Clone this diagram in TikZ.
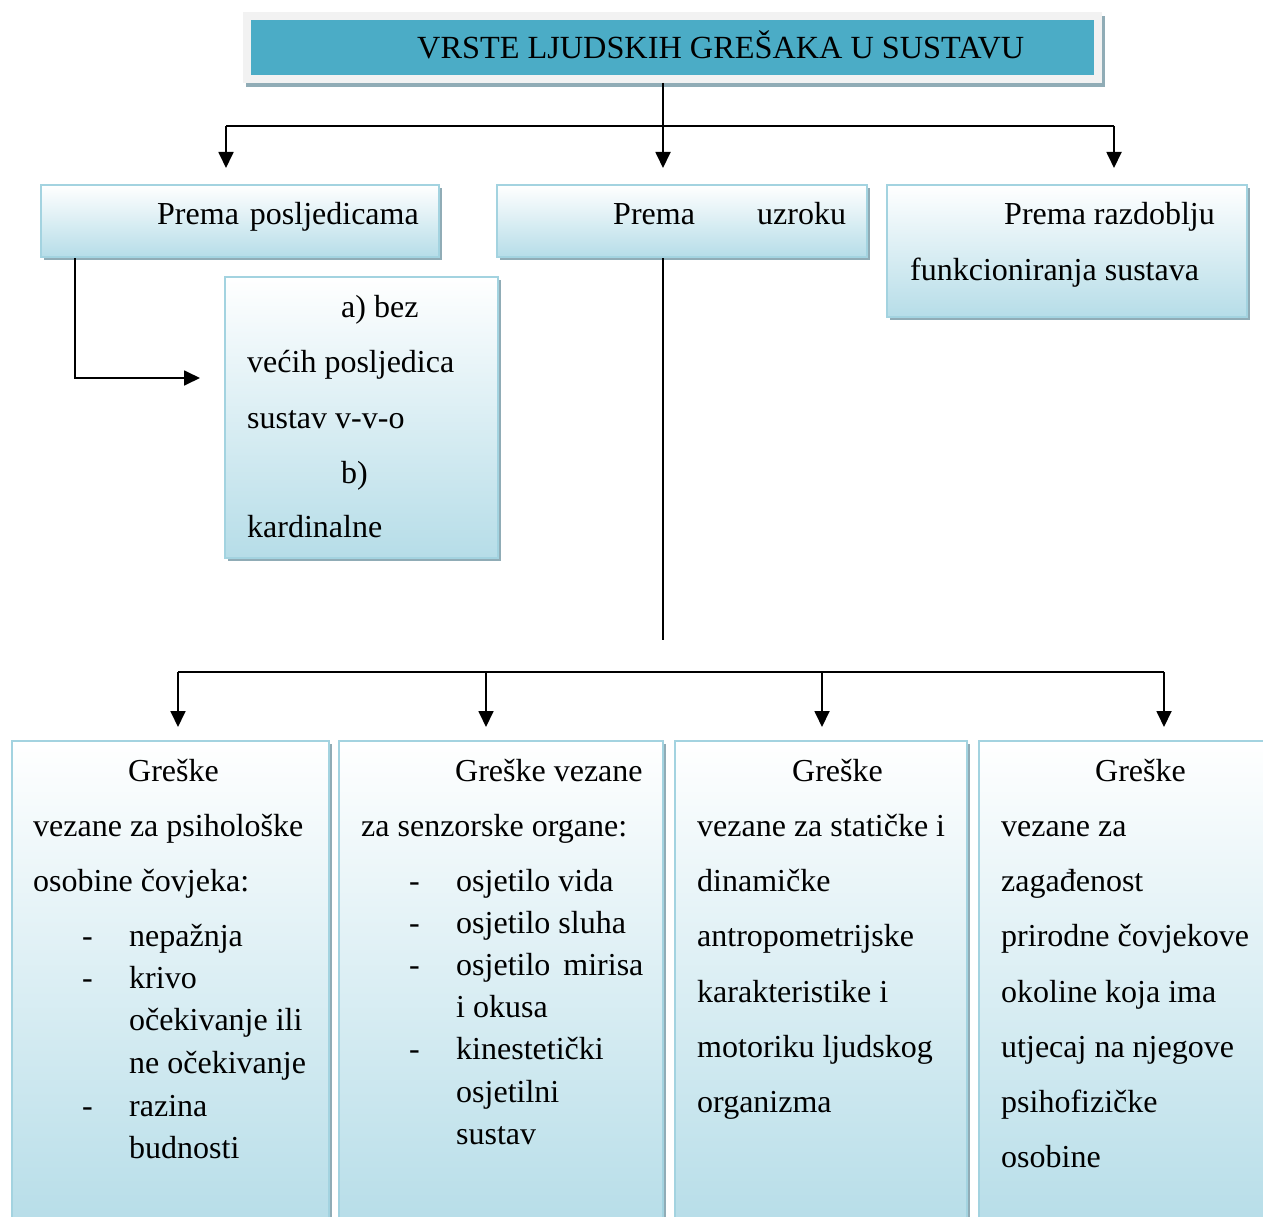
\documentclass[tikz,border=0pt]{standalone}
\usepackage{fontspec}
\setmainfont{Liberation Serif}
\usetikzlibrary{arrows.meta,shadows}
\definecolor{tealbar}{HTML}{4BACC6}
\definecolor{bord}{HTML}{A3D3E0}
\definecolor{shad}{HTML}{90ACB6}
\definecolor{bluebot}{HTML}{B6DDE8}
\definecolor{graybg}{HTML}{F2F2F2}
\begin{document}
\begin{tikzpicture}[x=1pt,y=-1pt,
  box/.style={draw=bord, line width=2pt, top color=white, bottom color=bluebot,
    drop shadow={shadow xshift=3pt, shadow yshift=-3pt, fill=shad, opacity=1},
    anchor=north west, inner sep=0pt, outer sep=0pt},
  txt/.style={font=\fontsize{32}{38}\selectfont, inner sep=0pt, anchor=base west},
  conn/.style={line width=1.8pt, black},
  arr/.style={conn, -{Triangle[width=15pt,length=16pt]}}]
\useasboundingbox (0,0) rectangle (1263,1217);
\clip (0,0) rectangle (1263,1217);
\fill[white] (0,0) rectangle (1263,1217);

% title
\node[anchor=north west, fill=graybg, minimum width=859pt, minimum height=71pt, inner sep=0pt,
  drop shadow={shadow xshift=3pt, shadow yshift=-4pt, fill=shad, opacity=1}] (tout) at (243,12) {};
\node[anchor=north west, fill=tealbar, minimum width=843pt, minimum height=55pt, inner sep=0pt] (tin) at (251,20) {};
\node[txt, font=\fontsize{32.3}{38}\selectfont] (ttext) at (417,59) {VRSTE LJUDSKIH GREŠAKA U SUSTAVU};

% level 1 boxes
\node[box, minimum width=398pt, minimum height=72pt] (A) at (41,185) {};
\node[box, minimum width=370pt, minimum height=72pt] (B) at (497,185) {};
\node[box, minimum width=360pt, minimum height=132pt] (C) at (887,185) {};
\node[box, minimum width=273pt, minimum height=281pt] (D) at (225,277) {};

\node[txt] (a1) at (157,225) {Prema\hspace{11pt}posljedicama};
\node[txt] (b1) at (613,225) {Prema};
\node[txt] (b2) at (757,225) {uzroku};
\node[txt] (c1) at (1004,225) {Prema razdoblju};
\node[txt] (c2) at (910,280) {funkcioniranja sustava};

\node[txt] (d1) at (341,317) {a) bez};
\node[txt] (d2) at (247,372) {većih posljedica};
\node[txt] (d3) at (247,428) {sustav v-v-o};
\node[txt] (d4) at (341,483) {b)};
\node[txt] (d5) at (247,537) {kardinalne};

% level 2 boxes
\node[box, minimum width=317pt, minimum height=490pt] (E) at (12,741) {};
\node[box, minimum width=324pt, minimum height=490pt] (F) at (339,741) {};
\node[box, minimum width=292pt, minimum height=490pt] (G) at (675,741) {};
\node[box, minimum width=300pt, minimum height=490pt] (H) at (979,741) {};

% box E text
\node[txt] (e1) at (128,781) {Greške};
\node[txt] (e2) at (33,836) {vezane za psihološke};
\node[txt] (e3) at (33,891) {osobine čovjeka:};
\node[txt] (e4d) at (82,946) {-};
\node[txt] (e4) at (129,946) {nepažnja};
\node[txt] (e5d) at (82,988) {-};
\node[txt] (e5) at (129,988) {krivo};
\node[txt] (e6) at (129,1030) {očekivanje ili};
\node[txt] (e7) at (129,1073) {ne očekivanje};
\node[txt] (e8d) at (82,1116) {-};
\node[txt] (e8) at (129,1116) {razina};
\node[txt] (e9) at (129,1158) {budnosti};

% box F text
\node[txt] (f1) at (455,781) {Greške vezane};
\node[txt] (f2) at (361,836) {za senzorske organe:};
\node[txt] (f3d) at (409,891) {-};
\node[txt] (f3) at (456,891) {osjetilo vida};
\node[txt] (f4d) at (409,933) {-};
\node[txt] (f4) at (456,933) {osjetilo sluha};
\node[txt] (f5d) at (409,975) {-};
\node[txt] (f5) at (456,975) {osjetilo\hspace{13pt}mirisa};
\node[txt] (f6) at (456,1017) {i okusa};
\node[txt] (f7d) at (409,1059) {-};
\node[txt] (f7) at (456,1059) {kinestetički};
\node[txt] (f8) at (456,1102) {osjetilni};
\node[txt] (f9) at (456,1144) {sustav};

% box G text
\node[txt] (g1) at (792,781) {Greške};
\node[txt] (g2) at (697,836) {vezane za statičke i};
\node[txt] (g3) at (697,891) {dinamičke};
\node[txt] (g4) at (697,946) {antropometrijske};
\node[txt] (g5) at (697,1002) {karakteristike i};
\node[txt] (g6) at (697,1057) {motoriku ljudskog};
\node[txt] (g7) at (697,1112) {organizma};

% box H text
\node[txt] (h1) at (1095,781) {Greške};
\node[txt] (h2) at (1001,836) {vezane za};
\node[txt] (h3) at (1001,891) {zagađenost};
\node[txt] (h4) at (1001,946) {prirodne čovjekove};
\node[txt] (h5) at (1001,1002) {okoline koja ima};
\node[txt] (h6) at (1001,1057) {utjecaj na njegove};
\node[txt] (h7) at (1001,1112) {psihofizičke};
\node[txt] (h8) at (1001,1167) {osobine};

% connector coordinates
\coordinate (t0) at (663,83);
\coordinate (j1) at (663,126);
\coordinate (l1) at (226,126);
\coordinate (r1) at (1114,126);
\coordinate (pA) at (226,168);
\coordinate (pB) at (663,168);
\coordinate (pC) at (1114,168);
\coordinate (sA) at (75,258);
\coordinate (kA) at (75,378);
\coordinate (pD) at (200,378);
\coordinate (sB) at (663,258);
\coordinate (eB) at (663,640);
\coordinate (l2) at (178,672);
\coordinate (r2) at (1164,672);
\coordinate (m2a) at (486,672);
\coordinate (m2b) at (822,672);
\coordinate (pE) at (178,727);
\coordinate (pF) at (486,727);
\coordinate (pG) at (822,727);
\coordinate (pH) at (1164,727);

\draw[conn] (t0) -- (j1);
\draw[conn] (l1) -- (r1);
\draw[arr] (l1) -- (pA);
\draw[arr] (j1) -- (pB);
\draw[arr] (r1) -- (pC);
\draw[arr] (sA) -- (kA) -- (pD);
\draw[conn] (sB) -- (eB);
\draw[conn] (l2) -- (r2);
\draw[arr] (l2) -- (pE);
\draw[arr] (m2a) -- (pF);
\draw[arr] (m2b) -- (pG);
\draw[arr] (r2) -- (pH);
\end{tikzpicture}
\end{document}
